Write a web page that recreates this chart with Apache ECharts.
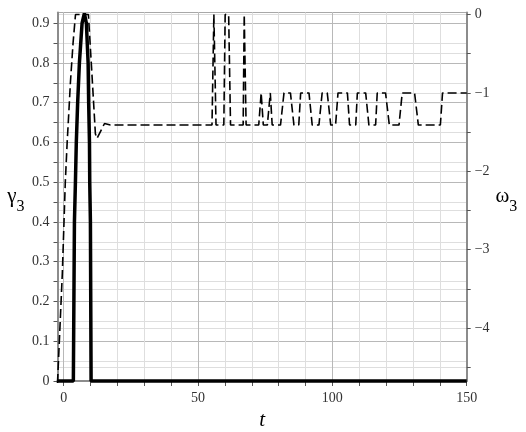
<!DOCTYPE html>
<html>
<head>
<meta charset="utf-8">
<script src="https://cdn.jsdelivr.net/npm/echarts@6/dist/echarts.min.js"></script>
<style>
html, body { margin: 0; padding: 0; background: #fff; }
#chart { width: 526px; height: 432px; }
</style>
</head>
<body>
<div id="chart"></div>
<script>
// gamma_3 (left axis) - solid hump
var gammaT = [-2.3, 3.6, 4.0, 4.37, 4.7, 5.2, 5.85, 6.85, 7.7, 8.45, 9.1, 9.3, 9.6, 9.7, 9.95, 10.2, 150];
var gammaV = [0, 0, 0.4, 0.5, 0.6, 0.7, 0.8, 0.9, 0.925, 0.9, 0.8, 0.7, 0.6, 0.5, 0.4, 0, 0];

// omega_3 (right axis) - dashed
var omegaT = [-2.3, -0.5, 0.6, 1.3, 2.1, 2.5, 3.5, 4.4, 9.2, 10.5, 11.8, 12.4, 15.2, 17.4,
    55.2, 55.9, 56.7, 59.6, 60.1, 61.4, 62.1, 66.8, 67.2, 67.9,
    72.6, 73.5, 74.3, 75.8, 76.9, 77.6, 80.7, 82, 84.4, 85.7, 87.5, 88.2, 91.3, 92.5,
    95, 96.2, 98.1, 99.4, 101.2, 102.1, 105.6, 106.4, 108.7, 109.3, 112.4, 113.6,
    116.1, 116.7, 119.8, 121.2, 124.8, 126, 130.6, 132, 140.2, 141, 150];
var omegaV = [-4.7, -3.3, -2.14, -1.63, -1.13, -0.87, -0.36, 0, 0, -0.75, -1.52, -1.58, -1.39, -1.41,
    -1.41, 0, -1.41, -1.41, 0, 0, -1.41, -1.41, 0, -1.41,
    -1.41, -1.0, -1.41, -1.41, -1.0, -1.41, -1.41, -1.0, -1.0, -1.41, -1.41, -1.0, -1.0, -1.41,
    -1.41, -1.0, -1.0, -1.41, -1.41, -1.0, -1.0, -1.41, -1.41, -1.0, -1.0, -1.41,
    -1.41, -1.0, -1.0, -1.41, -1.41, -1.0, -1.0, -1.41, -1.41, -1.0, -1.0];

// ticks
var xTicks = [0, 10, 20, 30, 40, 50, 60, 70, 80, 90, 100, 110, 120, 130, 140, 150];
var xLabels = [0, 50, 100, 150];
var leftTicks = [0, 0.05, 0.1, 0.15, 0.2, 0.25, 0.3, 0.35, 0.4, 0.45, 0.5, 0.55, 0.6, 0.65, 0.7, 0.75, 0.8, 0.85, 0.9];
var leftLabels = [0, 0.1, 0.2, 0.3, 0.4, 0.5, 0.6, 0.7, 0.8, 0.9];
var rightTicks = [-4.5, -4, -3.5, -3, -2.5, -2, -1.5, -1, -0.5, 0];
var rightLabels = [-4, -3, -2, -1, 0];

var xMin = -2.3, xMax = 150;
var leftMin = 0, leftMax = 0.927;
var rightMin = -4.675, rightMax = 0.026;

var font = 'Liberation Serif';
var lightGrid = '#dedede';
var darkGrid = '#b8b8b8';
var axisGray = '#8c8c8c';

function pairs(xs, ys) {
    return xs.map(function (x, i) { return [x, ys[i]]; });
}

// subscript name style, shared by both y axes
var subName = {
    fontFamily: font,
    color: '#000',
    rich: {
        g: { fontFamily: font, fontSize: 21, color: '#000' },
        s: { fontFamily: font, fontSize: 16, color: '#000', padding: [20, 0, 0, 0] }
    }
};

var chart = echarts.init(document.getElementById('chart'));
var option = {
    backgroundColor: '#fff',
    animation: false,
    grid: {
        left: 57.5,
        right: 59.3,
        top: 12.5,
        bottom: 51,
        show: true,
        borderColor: '#a8a8a8',
        borderWidth: 1,
        containLabel: false,
        outerBoundsMode: 'none'
    },
    xAxis: [{
        type: 'value',
        min: xMin,
        max: xMax,
        position: 'bottom',
        name: 't',
        nameLocation: 'middle',
        nameGap: 24,
        nameTextStyle: { fontFamily: font, fontSize: 21, fontStyle: 'italic', color: '#000' },
        axisLine: { onZero: false, lineStyle: { color: axisGray, width: 2 } },
        axisTick: { customValues: xTicks, length: 5, lineStyle: { color: '#555' } },
        axisLabel: { customValues: xLabels, margin: 10, fontFamily: font, fontSize: 14, color: '#333' },
        splitLine: { show: true, lineStyle: { color: lightGrid, width: 1 } }
    }, {
        type: 'value',
        min: xMin,
        max: xMax,
        position: 'bottom',
        axisLine: { show: false },
        axisTick: { show: false, customValues: xLabels },
        axisLabel: { show: false },
        splitLine: { show: true, lineStyle: { color: darkGrid, width: 1 } }
    }],
    yAxis: [{
        type: 'value',
        min: leftMin,
        max: leftMax,
        position: 'left',
        name: '{g|γ}{s|3}',
        nameLocation: 'middle',
        nameRotate: 0,
        nameGap: 33,
        nameTextStyle: subName,
        axisLine: { show: true, onZero: false, lineStyle: { color: axisGray, width: 2 } },
        axisTick: { show: true, customValues: leftTicks, length: 4, lineStyle: { color: '#555' } },
        axisLabel: { customValues: leftLabels, margin: 8, fontFamily: font, fontSize: 14, color: '#333' },
        splitLine: { show: true, lineStyle: { color: lightGrid, width: 1 } }
    }, {
        type: 'value',
        min: rightMin,
        max: rightMax,
        position: 'right',
        name: '{g|ω}{s|3}',
        nameLocation: 'middle',
        nameRotate: 0,
        nameGap: 27,
        nameTextStyle: subName,
        axisLine: { show: true, onZero: false, lineStyle: { color: axisGray, width: 2 } },
        axisTick: { show: true, customValues: rightTicks, length: 4, lineStyle: { color: '#555' } },
        axisLabel: {
            customValues: rightLabels, margin: 8, fontFamily: font, fontSize: 14, color: '#333',
            formatter: function (v) { return v < 0 ? '\u2212' + Math.abs(v) : String(v); }
        },
        splitLine: { show: true, lineStyle: { color: lightGrid, width: 1 } }
    }, {
        type: 'value',
        min: leftMin,
        max: leftMax,
        position: 'left',
        axisLine: { show: false },
        axisTick: { show: false, customValues: leftLabels },
        axisLabel: { show: false },
        splitLine: { show: true, lineStyle: { color: darkGrid, width: 1 } }
    }],
    series: [{
        name: 'gamma3',
        type: 'line',
        xAxisIndex: 0,
        yAxisIndex: 0,
        showSymbol: false,
        clip: false,
        lineStyle: { color: '#000', width: 3.5 },
        data: pairs(gammaT, gammaV)
    }, {
        name: 'omega3',
        type: 'line',
        xAxisIndex: 0,
        yAxisIndex: 1,
        showSymbol: false,
        clip: false,
        lineStyle: { color: '#000', width: 1.6, type: [9, 4] },
        data: pairs(omegaT, omegaV)
    }]
};
chart.setOption(option);
</script>
</body>
</html>
